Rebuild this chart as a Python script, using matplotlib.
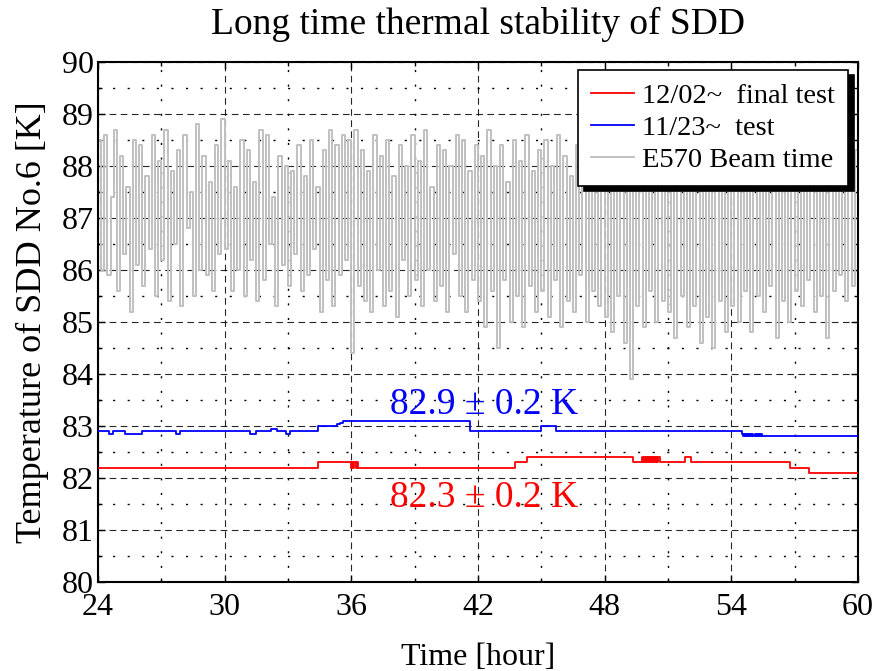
import numpy as np
import matplotlib
matplotlib.use("Agg")
import matplotlib.pyplot as plt
from matplotlib.ticker import MultipleLocator

plt.rcParams['font.family'] = ['Liberation Serif', 'DejaVu Serif']
plt.rcParams['mathtext.fontset'] = 'stix'

# ---------------- data ----------------
# E570 beam time (gray), sampled every 0.15 h from 24 h
beam_values = [
    88.5, 86.0, 88.6, 85.9, 87.4, 88.7, 85.6, 88.2, 86.3, 87.6, 85.2, 88.5, 86.1, 88.4, 85.7, 87.8, 86.4, 88.6, 85.5, 88.1,
    86.2, 88.7, 85.4, 87.9, 86.5, 88.3, 85.3, 88.6, 86.8, 87.5, 85.5, 88.8, 86.0, 88.2, 85.9, 87.7, 85.6, 88.4, 86.3, 88.9,
    86.4, 88.1, 85.6, 87.6, 86.0, 88.5, 85.5, 88.3, 86.2, 87.7, 85.4, 88.7, 85.8, 88.6, 86.5, 87.4, 85.3, 88.2, 86.1, 88.0,
    85.7, 87.9, 86.3, 88.4, 85.6, 87.8, 85.9, 88.5, 86.4, 87.6, 85.2, 88.3, 85.8, 88.7, 85.3, 88.4, 85.9, 88.6, 86.2, 88.5,
    84.4, 88.7, 85.7, 88.3, 85.4, 87.9, 85.2, 88.6, 86.0, 88.2, 85.3, 88.5, 85.6, 87.8, 85.1, 88.4, 86.2, 88.0, 85.5, 88.6,
    85.8, 88.1, 85.3, 88.7, 86.0, 87.6, 85.4, 88.4, 85.7, 88.3, 85.2, 88.0, 86.3, 88.6, 85.5, 88.5, 85.2, 87.9, 85.8, 88.4,
    85.4, 88.2, 84.9, 88.7, 85.6, 88.0, 84.5, 88.4, 85.8, 87.7, 85.0, 88.5, 85.5, 88.1, 84.9, 88.6, 85.7, 87.9, 85.2, 88.3,
    85.6, 88.5, 85.1, 88.0, 85.8, 88.6, 84.9, 88.2, 85.4, 87.8, 85.2, 88.4, 85.9, 88.1, 85.0, 88.7, 85.6, 87.9, 85.3, 88.5,
    85.1, 88.3, 84.8, 88.0, 85.5, 88.6, 84.6, 87.8, 83.9, 88.4, 85.3, 88.1, 84.9, 88.5, 85.6, 87.9, 85.0, 88.3, 85.4, 88.6,
    85.2, 88.0, 84.7, 88.4, 85.5, 87.8, 84.9, 88.6, 85.3, 88.2, 84.6, 88.5, 85.1, 87.9, 84.5, 88.3, 85.4, 88.0, 84.8, 88.6,
    85.3, 88.2, 85.0, 88.5, 85.6, 87.9, 84.8, 88.4, 85.5, 88.1, 85.2, 88.6, 85.7, 88.0, 84.7, 88.3, 85.4, 88.5, 85.0, 88.2,
    85.6, 88.4, 85.3, 88.0, 85.8, 88.6, 85.2, 88.3, 85.5, 87.9, 84.7, 88.5, 85.6, 88.1, 85.9, 88.4, 85.4, 88.2, 85.7, 88.3,
    88.3,
]
beam_start, beam_step = 24.0, 0.15
beam_time = beam_start + beam_step * np.arange(len(beam_values))

# 11/23~ test (blue), step changes
test_time = [24.0, 24.5, 24.7, 25.3, 26.1, 27.7, 27.9, 31.2, 31.5, 32.2, 32.5, 32.9, 33.1,
             34.4, 35.3, 35.45, 35.6, 41.6, 45.0, 45.7,
             54.5, 54.55, 54.6, 54.65, 54.7, 54.75, 54.8, 54.85, 54.9, 54.95, 55.0,
             55.05, 55.1, 55.15, 55.2, 55.25, 55.3, 55.35, 55.4, 55.45, 55.5, 60.0]
test_temp = [82.9, 82.85, 82.9, 82.85, 82.9, 82.85, 82.9, 82.85, 82.9, 82.95, 82.9, 82.85, 82.9,
             83.0, 83.03, 83.06, 83.1, 82.9, 83.0, 82.9,
             82.85, 82.8, 82.85, 82.8, 82.85, 82.8, 82.85, 82.8, 82.85, 82.8, 82.85,
             82.8, 82.85, 82.8, 82.85, 82.8, 82.85, 82.8, 82.85, 82.8, 82.8, 82.8]

# 12/02~ final test (red), step changes
final_time = [24.0, 34.4, 36.0, 36.05, 36.1, 36.15, 36.2, 36.25, 36.3, 43.75, 44.3, 49.35,
              49.75, 49.8, 49.85, 49.9, 49.95, 50.0, 50.05, 50.1, 50.15, 50.2, 50.25,
              50.3, 50.35, 50.4, 50.45, 50.5, 50.55, 50.6, 51.8, 52.1, 56.8, 57.7, 60.0]
final_temp = [82.2, 82.3, 82.2, 82.3, 82.2, 82.3, 82.2, 82.3, 82.2, 82.3, 82.4, 82.3,
              82.4, 82.3, 82.4, 82.3, 82.4, 82.3, 82.4, 82.3, 82.4, 82.3, 82.4,
              82.3, 82.4, 82.3, 82.4, 82.3, 82.4, 82.3, 82.4, 82.3, 82.2, 82.1, 82.1]

labels = ['12/02~  final test', '11/23~  test', 'E570 Beam time']
title = 'Long time thermal stability of SDD'
xlabel = 'Time [hour]'
ylabel = 'Temperature of SDD No.6 [K]'
blue_note = '82.9 ± 0.2 K'
red_note = '82.3 ± 0.2 K'

# ---------------- figure ----------------
fig = plt.figure(figsize=(8.77, 6.71), dpi=100)
ax = fig.add_axes([0.1117, 0.1326, 0.8666, 0.775])

ax.plot(beam_time, beam_values, drawstyle='steps-post', color='#c0c0c0', lw=1.4, zorder=2)
l_blue, = ax.plot(test_time, test_temp, drawstyle='steps-post', color='#0000ff', lw=1.3, zorder=3)
l_red, = ax.plot(final_time, final_temp, drawstyle='steps-post', color='#ff0000', lw=1.3, zorder=3)
l_gray, = ax.plot([], [], color='#c0c0c0', lw=1.4)

ax.set_xlim(24, 60)
ax.set_ylim(80, 90)
ax.xaxis.set_major_locator(MultipleLocator(6))
ax.xaxis.set_minor_locator(MultipleLocator(3))
ax.yaxis.set_major_locator(MultipleLocator(1))
ax.yaxis.set_minor_locator(MultipleLocator(0.5))

ax.grid(which='major', color='black', lw=0.8, linestyle=(0, (6, 4)), alpha=0.85)
ax.grid(which='minor', color='black', lw=1.0, linestyle=(0, (1.5, 9)))

ax.tick_params(which='both', direction='in', top=True, right=True, labelsize=23)
ax.tick_params(axis='x', pad=8)
ax.tick_params(axis='y', pad=3)
ax.tick_params(which='major', length=5, width=1)
ax.tick_params(which='minor', length=3, width=1)
for s in ax.spines.values():
    s.set_linewidth(1.5)

ax.set_title(title, fontsize=27, pad=20)
ax.set_xlabel(xlabel, fontsize=23, labelpad=15)
ax.set_ylabel(ylabel, fontsize=26, labelpad=9)

ax.text(42.3, 83.4, blue_note, color='#0000ff', fontsize=27, ha='center', va='center', zorder=4)
ax.text(42.3, 81.63, red_note, color='#ff0000', fontsize=27, ha='center', va='center', zorder=4)

leg = ax.legend([l_red, l_blue, l_gray], labels, loc='upper right', bbox_to_anchor=(0.987, 0.985),
                borderaxespad=0, fancybox=False, edgecolor='black', framealpha=1, fontsize=20.5,
                handlelength=1.5, handletextpad=0.3, labelspacing=0.22, borderpad=0.45,
                shadow={'color': 'black', 'alpha': 1, 'ox': 4, 'oy': -4})
leg.get_frame().set_linewidth(1.2)
leg.set_zorder(5)

fig.savefig('out.png', dpi=100)
